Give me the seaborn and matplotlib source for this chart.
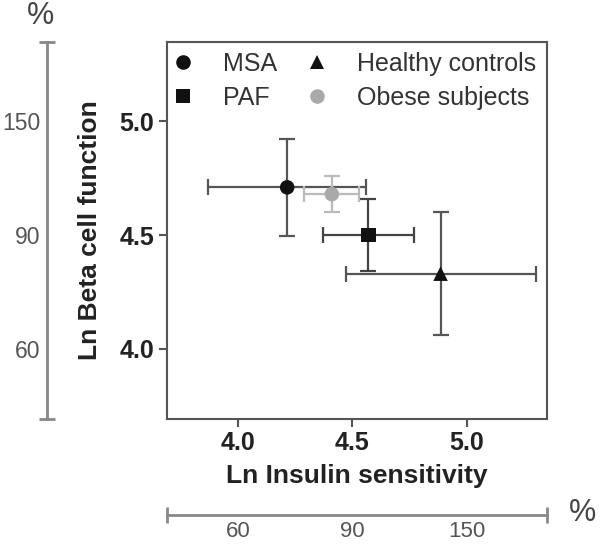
import matplotlib
matplotlib.use("Agg")
import matplotlib.pyplot as plt
import seaborn as sns
import pandas as pd
from matplotlib.lines import Line2D

# ---- data ----
groups = ["MSA", "PAF", "Healthy controls", "Obese subjects"]
ins_sens = [4.215, 4.57, 4.885, 4.41]
ins_sens_err = [0.345, 0.20, 0.415, 0.12]
beta_func = [4.71, 4.50, 4.33, 4.68]
beta_func_err = [0.215, 0.16, 0.27, 0.08]
main_ticks = [4.0, 4.5, 5.0]
main_tick_labels = ["4.0", "4.5", "5.0"]
pct_tick_labels = ["60", "90", "150"]
lims = (3.69, 5.35)

marker_map = {"MSA": "o", "PAF": "s", "Healthy controls": "^", "Obese subjects": "o"}
color_map = {"MSA": "#111111", "PAF": "#111111", "Healthy controls": "#111111", "Obese subjects": "#a9a9a9"}
ecolor_map = {"MSA": "#555555", "PAF": "#444444", "Healthy controls": "#555555", "Obese subjects": "#bbbbbb"}

sns.set_theme(style="white")
plt.rcParams['font.family'] = ['Liberation Sans', 'DejaVu Sans']

W, H = 600, 548
fig = plt.figure(figsize=(W / 100, H / 100), dpi=100)
L, R, T, B = 167, 547, 42, 419
ax = fig.add_axes([L / W, 1 - B / H, (R - L) / W, (B - T) / H])

df = pd.DataFrame({"group": groups, "sens": ins_sens, "sens_err": ins_sens_err,
                   "beta": beta_func, "beta_err": beta_func_err})

for _, r in df.iterrows():
    ax.errorbar(r["sens"], r["beta"], xerr=r["sens_err"], yerr=r["beta_err"], fmt="none",
                ecolor=ecolor_map[r["group"]], elinewidth=1.6, capsize=6, capthick=1.6, zorder=2)

sns.scatterplot(data=df, x="sens", y="beta", hue="group", style="group",
                palette=color_map, markers=marker_map, s=110, linewidth=0,
                ax=ax, zorder=3, legend=False)

ax.set_xlim(*lims)
ax.set_ylim(*lims)
ax.set_xticks(main_ticks)
ax.set_xticklabels(main_tick_labels)
ax.set_yticks(main_ticks)
ax.set_yticklabels(main_tick_labels)
for s in ax.spines.values():
    s.set_color("#555555")
    s.set_linewidth(1.5)
ax.tick_params(axis="both", which="major", direction="out", length=6, width=1.5,
               color="#555555", labelsize=18, labelcolor="#222222", pad=3,
               left=True, bottom=True)
for lab in ax.get_xticklabels() + ax.get_yticklabels():
    lab.set_fontweight("bold")
ax.set_xlabel("Ln Insulin sensitivity", fontsize=19, fontweight="bold", color="#222222", labelpad=6)
ax.set_ylabel("Ln Beta cell function", fontsize=19, fontweight="bold", color="#222222", labelpad=13)
ax.grid(False)

# legend
handles = []
for g in groups:
    handles.append(Line2D([0], [0], marker=marker_map[g], linestyle="none",
                          markerfacecolor=color_map[g], markeredgewidth=0,
                          markersize=10.5, label=g))
leg = ax.legend(handles=handles, ncol=2, frameon=False, loc="upper left",
                bbox_to_anchor=(170.5 / W, 1 - 52 / H), bbox_transform=fig.transFigure,
                borderpad=0, borderaxespad=0, handlelength=1.0, handletextpad=1.1,
                columnspacing=1.1, labelspacing=0.4, prop={"size": 18})
for t in leg.get_texts():
    t.set_color("#333333")

# secondary % axis (left)
gray = "#888888"
axl = fig.add_axes([47 / W, 1 - B / H, 0.0001, (B - T) / H])
axl.set_ylim(*lims)
axl.set_xlim(0, 1)
axl.set_facecolor("none")
for k, s in axl.spines.items():
    s.set_visible(k == "left")
axl.spines["left"].set_color(gray)
axl.spines["left"].set_linewidth(2)
axl.set_xticks([])
axl.set_yticks(main_ticks)
axl.set_yticklabels(pct_tick_labels)
axl.tick_params(axis="y", length=0, pad=5, labelsize=16.5, labelcolor="#555555")
axl.plot([0, 0], [0, 1], transform=axl.transAxes, marker="_", markersize=12,
         markeredgewidth=2, color=gray, linestyle="none", clip_on=False)
axl.grid(False)
fig.text(40 / W, 1 - 16 / H, "%", ha="center", va="center", fontsize=22, color="#444444")

# secondary % axis (bottom)
axb = fig.add_axes([L / W, 1 - 515 / H, (R - L) / W, 0.0001])
axb.set_xlim(*lims)
axb.set_ylim(0, 1)
axb.set_facecolor("none")
for k, s in axb.spines.items():
    s.set_visible(k == "bottom")
axb.spines["bottom"].set_color(gray)
axb.spines["bottom"].set_linewidth(2)
axb.set_yticks([])
axb.set_xticks(main_ticks)
axb.set_xticklabels(pct_tick_labels)
axb.tick_params(axis="x", length=0, pad=4, labelsize=16, labelcolor="#555555")
axb.plot([0, 1], [0, 0], transform=axb.transAxes, marker="|", markersize=12,
         markeredgewidth=2, color=gray, linestyle="none", clip_on=False)
axb.grid(False)
fig.text(583 / W, 1 - 513 / H, "%", ha="center", va="center", fontsize=22, color="#444444")

fig.savefig("out.png", dpi=100)
